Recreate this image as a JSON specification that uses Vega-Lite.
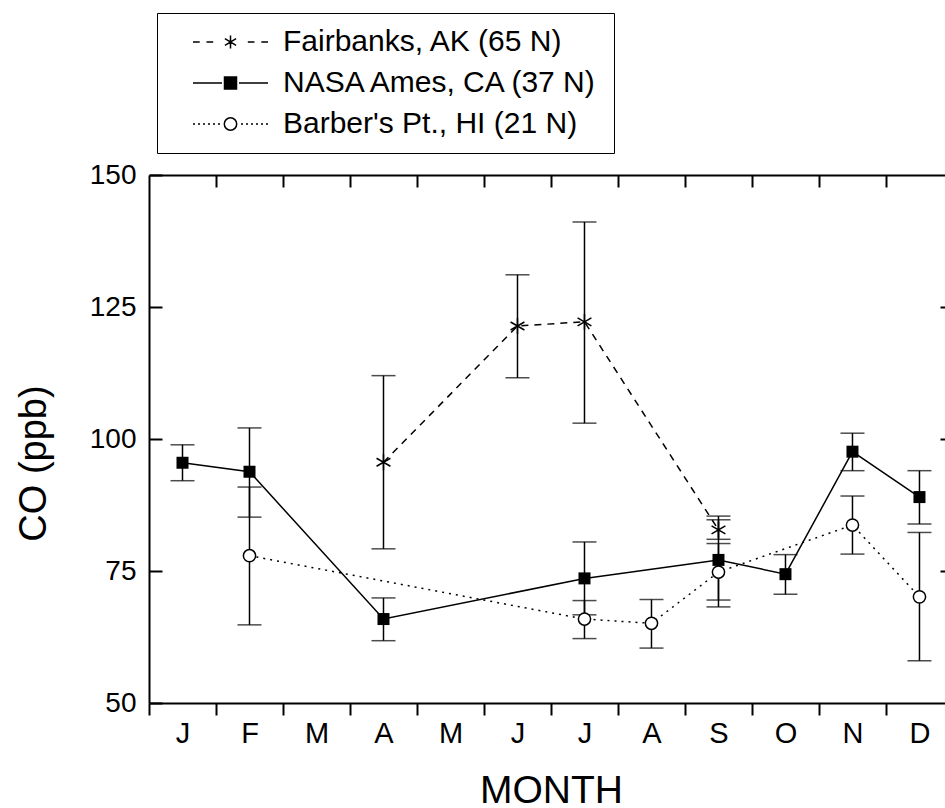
{
  "$schema": "https://vega.github.io/schema/vega-lite/v6.json",
  "width": 796,
  "height": 528,
  "autosize": {"type": "none"},
  "padding": {"left": 149, "top": 175, "right": 0, "bottom": 105},
  "config": {
    "font": "Liberation Sans",
    "view": {"stroke": null},
    "axis": {"domainColor": "black", "tickColor": "black", "labelColor": "black", "titleColor": "black", "titleFontWeight": "normal", "grid": false, "labelFont": "Liberation Sans", "titleFont": "Liberation Sans"}
  },
  "datasets": {
    "obs": [
      {"site": "Fairbanks, AK (65 N)", "month": 4, "co": 95.6, "lo": 79.2, "hi": 112.0},
      {"site": "Fairbanks, AK (65 N)", "month": 6, "co": 121.4, "lo": 111.6, "hi": 131.1},
      {"site": "Fairbanks, AK (65 N)", "month": 7, "co": 122.2, "lo": 103.0, "hi": 141.1},
      {"site": "Fairbanks, AK (65 N)", "month": 9, "co": 82.8, "lo": 81.0, "hi": 84.7},
      {"site": "NASA Ames, CA (37 N)", "month": 1, "co": 95.5, "lo": 92.1, "hi": 98.9},
      {"site": "NASA Ames, CA (37 N)", "month": 2, "co": 93.8, "lo": 85.2, "hi": 102.1},
      {"site": "NASA Ames, CA (37 N)", "month": 4, "co": 65.9, "lo": 61.8, "hi": 69.9},
      {"site": "NASA Ames, CA (37 N)", "month": 7, "co": 73.6, "lo": 66.7, "hi": 80.5},
      {"site": "NASA Ames, CA (37 N)", "month": 9, "co": 77.1, "lo": 68.2, "hi": 85.4},
      {"site": "NASA Ames, CA (37 N)", "month": 10, "co": 74.4, "lo": 70.6, "hi": 78.1},
      {"site": "NASA Ames, CA (37 N)", "month": 11, "co": 97.6, "lo": 94.0, "hi": 101.1},
      {"site": "NASA Ames, CA (37 N)", "month": 12, "co": 89.0, "lo": 83.9, "hi": 94.0},
      {"site": "Barber's Pt., HI (21 N)", "month": 2, "co": 77.9, "lo": 64.8, "hi": 90.9},
      {"site": "Barber's Pt., HI (21 N)", "month": 7, "co": 65.9, "lo": 62.2, "hi": 69.4},
      {"site": "Barber's Pt., HI (21 N)", "month": 8, "co": 65.1, "lo": 60.4, "hi": 69.6},
      {"site": "Barber's Pt., HI (21 N)", "month": 9, "co": 74.8, "lo": 69.5, "hi": 80.2},
      {"site": "Barber's Pt., HI (21 N)", "month": 11, "co": 83.7, "lo": 78.2, "hi": 89.2},
      {"site": "Barber's Pt., HI (21 N)", "month": 12, "co": 70.1, "lo": 58.0, "hi": 82.3}
    ],
    "sites": [
      {"site": "Fairbanks, AK (65 N)"},
      {"site": "NASA Ames, CA (37 N)"},
      {"site": "Barber's Pt., HI (21 N)"}
    ]
  },
  "data": {"name": "obs"},
  "resolve": {"axis": {"x": "independent", "y": "independent"}},
  "layer": [
    {
      "transform": [{"filter": "datum.site === 'NASA Ames, CA (37 N)'"}],
      "mark": {"type": "line", "color": "black", "strokeWidth": 1.5},
      "encoding": {
        "x": {"field": "month", "type": "quantitative",
          "scale": {"domain": [0.5, 12.381], "nice": false, "zero": false},
          "axis": {"orient": "bottom", "values": [0.5, 1, 1.5, 2, 2.5, 3, 3.5, 4, 4.5, 5, 5.5, 6, 6.5, 7, 7.5, 8, 8.5, 9, 9.5, 10, 10.5, 11, 11.5, 12],
            "labelExpr": "datum.value % 1 === 0 ? ['J','F','M','A','M','J','J','A','S','O','N','D'][datum.value - 1] : ''",
            "tickOpacity": {"condition": {"test": "datum.value % 1 === 0", "value": 0}, "value": 1},
            "tickSize": 12, "tickWidth": 2, "domainWidth": 2, "labelFontSize": 29, "labelPadding": 4,
            "labelOverlap": false, "labelBound": false, "labelFlush": false,
            "title": "MONTH", "titleFontSize": 39, "titleX": 402, "titleY": 99, "titleAlign": "center", "titleBaseline": "alphabetic"}},
        "y": {"field": "co", "type": "quantitative",
          "scale": {"domain": [50, 150], "nice": false, "zero": false},
          "axis": {"orient": "left", "values": [50, 75, 100, 125, 150], "tickSize": -13, "tickWidth": 2, "domainWidth": 2,
            "labelFontSize": 28, "labelPadding": 26, "labelOverlap": false, "labelBound": false, "labelFlush": false,
            "title": "CO  (ppb)", "titleFontSize": 38, "titleAngle": -90, "titleX": -104, "titleY": 288, "titleAlign": "center", "titleBaseline": "alphabetic"}}
      }
    },
    {
      "transform": [{"filter": "datum.site === 'Fairbanks, AK (65 N)'"}],
      "mark": {"type": "line", "color": "black", "strokeWidth": 1.5, "strokeDash": [7, 6]},
      "encoding": {
        "x": {"field": "month", "type": "quantitative", "axis": null},
        "y": {"field": "co", "type": "quantitative", "axis": null}
      }
    },
    {
      "transform": [{"filter": "datum.site === \"Barber's Pt., HI (21 N)\""}],
      "mark": {"type": "line", "color": "black", "strokeWidth": 1.5, "strokeDash": [2, 5]},
      "encoding": {
        "x": {"field": "month", "type": "quantitative", "axis": null},
        "y": {"field": "co", "type": "quantitative", "axis": null}
      }
    },
    {
      "mark": {"type": "rule", "color": "black", "strokeWidth": 1.5},
      "encoding": {
        "x": {"field": "month", "type": "quantitative",
          "axis": {"orient": "top", "values": [1.5, 2.5, 3.5, 4.5, 5.5, 6.5, 7.5, 8.5, 9.5, 10.5, 11.5], "tickSize": -12, "tickWidth": 2, "domainWidth": 2, "labels": false, "title": null}},
        "y": {"field": "lo", "type": "quantitative",
          "axis": {"orient": "right", "values": [75, 100, 125], "tickSize": -5, "tickWidth": 2, "domain": false, "labels": false, "title": null}},
        "y2": {"field": "hi"}
      }
    },
    {
      "mark": {"type": "tick", "orient": "horizontal", "color": "black", "size": 24, "thickness": 1.5},
      "encoding": {
        "x": {"field": "month", "type": "quantitative", "axis": null},
        "y": {"field": "lo", "type": "quantitative", "axis": null}
      }
    },
    {
      "mark": {"type": "tick", "orient": "horizontal", "color": "black", "size": 24, "thickness": 1.5},
      "encoding": {
        "x": {"field": "month", "type": "quantitative", "axis": null},
        "y": {"field": "hi", "type": "quantitative", "axis": null}
      }
    },
    {
      "transform": [{"filter": "datum.site === 'NASA Ames, CA (37 N)'"}],
      "mark": {"type": "point", "shape": "square", "filled": true, "color": "black", "size": 144, "opacity": 1},
      "encoding": {
        "x": {"field": "month", "type": "quantitative", "axis": null},
        "y": {"field": "co", "type": "quantitative", "axis": null}
      }
    },
    {
      "transform": [{"filter": "datum.site === \"Barber's Pt., HI (21 N)\""}],
      "mark": {"type": "point", "shape": "circle", "filled": true, "fill": "white", "stroke": "black", "strokeWidth": 1.5, "size": 150, "opacity": 1},
      "encoding": {
        "x": {"field": "month", "type": "quantitative", "axis": null},
        "y": {"field": "co", "type": "quantitative", "axis": null}
      }
    },
    {
      "transform": [{"filter": "datum.site === 'Fairbanks, AK (65 N)'"}],
      "mark": {"type": "point", "shape": "M0,-1L0,1M-0.866,-0.5L0.866,0.5M-0.866,0.5L0.866,-0.5", "filled": false, "stroke": "black", "strokeWidth": 1.5, "size": 256, "opacity": 1},
      "encoding": {
        "x": {"field": "month", "type": "quantitative", "axis": null},
        "y": {"field": "co", "type": "quantitative", "axis": null}
      }
    },
    {
      "data": {"name": "sites"},
      "transform": [{"filter": "false"}],
      "mark": {"type": "point", "filled": false, "color": "black", "strokeWidth": 1.5, "size": 400, "opacity": 1},
      "encoding": {
        "shape": {"field": "site", "type": "nominal",
          "scale": {"domain": ["Fairbanks, AK (65 N)", "NASA Ames, CA (37 N)", "Barber's Pt., HI (21 N)"],
            "range": [
              "M-3.75,0L-3.08,0M-2.4,0L-1.73,0M0,-0.65L0,0.65M-0.56,-0.33L0.56,0.33M-0.56,0.33L0.56,-0.33M1.73,0L2.4,0M3.08,0L3.75,0",
              "M-3.75,0L-0.85,0M0.85,0L3.75,0M-0.6,-0.6L0.6,-0.6L0.6,0.6L-0.6,0.6ZM-0.6,-0.45L0.6,-0.45M-0.6,-0.3L0.6,-0.3M-0.6,-0.15L0.6,-0.15M-0.6,0L0.6,0M-0.6,0.15L0.6,0.15M-0.6,0.3L0.6,0.3M-0.6,0.45L0.6,0.45",
              "M-3.75,0L-3.55,0M-3.25,0L-3.05,0M-2.75,0L-2.55,0M-2.25,0L-2.05,0M-1.75,0L-1.55,0M-1.25,0L-1.05,0M1.05,0L1.25,0M1.55,0L1.75,0M2.05,0L2.25,0M2.55,0L2.75,0M3.05,0L3.25,0M3.55,0L3.75,0M0.62,0A0.62,0.62,0,1,1,-0.62,0A0.62,0.62,0,1,1,0.62,0Z"
            ]},
          "legend": {"title": null, "orient": "none", "legendX": 8, "legendY": -162, "padding": 14, "rowPadding": 11,
            "symbolOffset": 44.5, "labelOffset": 37.5, "labelFontSize": 30, "labelColor": "black", "labelFont": "Liberation Sans",
            "strokeColor": "black", "symbolSize": 400, "symbolStrokeColor": "black", "symbolStrokeWidth": 1.5, "symbolOpacity": 1, "labelLimit": 600}}
      }
    }
  ]
}
